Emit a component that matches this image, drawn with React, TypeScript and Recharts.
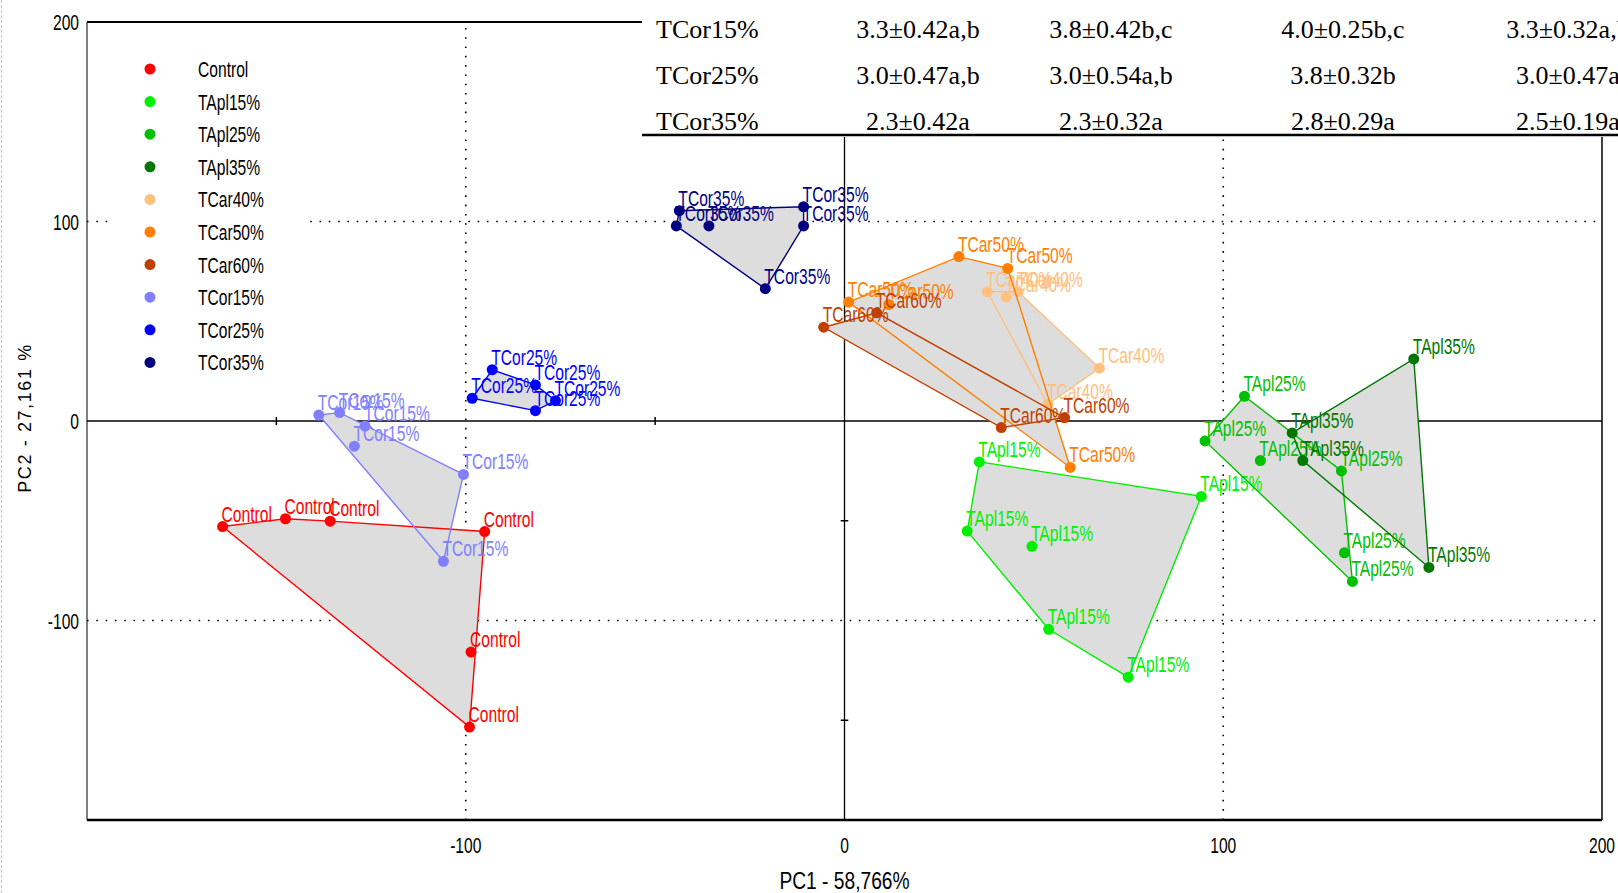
import React from 'react';
import { ScatterChart, Scatter, XAxis, YAxis, ReferenceLine, Legend } from 'recharts';

// PCA scores (PC1, PC2) of each formulation replicate
const CONTROL = [[-164.2, -52.9], [-147.6, -49.0], [-135.8, -50.2], [-95.0, -55.4], [-98.6, -115.8], [-99.0, -153.4]];
const TAPL15 = [[35.6, -20.5], [94.2, -37.8], [32.4, -55.2], [49.5, -62.8], [53.9, -104.4], [74.9, -128.4]];
const TAPL25 = [[105.6, 12.4], [95.2, -10.0], [109.8, -19.8], [131.2, -25.0], [132.0, -66.1], [134.1, -80.4]];
const TAPL35 = [[150.3, 31.1], [118.2, -6.0], [121.0, -19.8], [154.3, -73.4]];
const TCAR40 = [[37.7, 64.8], [42.7, 62.1], [45.8, 64.8], [67.3, 26.5], [53.7, 8.4]];
const TCAR50 = [[30.2, 82.4], [43.1, 76.5], [1.1, 59.6], [11.7, 58.4], [59.6, -23.3]];
const TCAR60 = [[-5.5, 47.0], [8.5, 54.2], [41.4, -3.3], [58.1, 1.7]];
const TCOR15 = [[-138.8, 3.0], [-133.3, 4.2], [-126.6, -2.5], [-129.4, -12.6], [-100.6, -26.8], [-105.9, -70.3]];
const TCOR25 = [[-93.0, 25.7], [-98.3, 11.4], [-81.6, 18.1], [-81.6, 5.2], [-76.3, 10.2]];
const TCOR35 = [[-43.6, 105.4], [-44.4, 97.8], [-35.8, 97.8], [-10.8, 107.4], [-10.8, 97.8], [-20.9, 66.3]];

const SERIES = [
  { name: 'Control', color: '#ff0000', scores: CONTROL },
  { name: 'TApl15%', color: '#00f000', scores: TAPL15 },
  { name: 'TApl25%', color: '#00c000', scores: TAPL25 },
  { name: 'TApl35%', color: '#007800', scores: TAPL35 },
  { name: 'TCar40%', color: '#ffc080', scores: TCAR40 },
  { name: 'TCar50%', color: '#ff8000', scores: TCAR50 },
  { name: 'TCar60%', color: '#c04000', scores: TCAR60 },
  { name: 'TCor15%', color: '#8080ff', scores: TCOR15 },
  { name: 'TCor25%', color: '#0000ff', scores: TCOR25 },
  { name: 'TCor35%', color: '#000080', scores: TCOR35 },
];

const X_TICKS = [-100, 0, 100, 200];
const Y_TICKS = [-100, 0, 100, 200];
const GRID_LINES = [-100, 100];
const MINOR_TICKS = [-150, -50];

// sensory scores table printed over the top of the figure
const TABLE_NAMES = ['TCor15%', 'TCor25%', 'TCor35%'];
const TABLE_COLUMNS = [
  ['3.3±0.42a,b', '3.0±0.47a,b', '2.3±0.42a'],
  ['3.8±0.42b,c', '3.0±0.54a,b', '2.3±0.32a'],
  ['4.0±0.25b,c', '3.8±0.32b', '2.8±0.29a'],
  ['3.3±0.32a,b', '3.0±0.47a', '2.5±0.19a'],
];
const TABLE_COL_X = [918, 1111, 1343, 1568];
const TABLE_ROW_Y = [38, 84, 130];

const SANS = '"Liberation Sans", Arial, sans-serif';
const SERIF = '"Liberation Serif", "Times New Roman", serif';
const FONT = 22;
const SQUEEZE = 0.71;

type Pt = { x: number; y: number };

// convex hull (monotone chain) of the projected points
const convexHull = (pts: Pt[]): Pt[] => {
  const p = [...pts].sort((a, b) => a.x - b.x || a.y - b.y);
  if (p.length < 3) return p;
  const cross = (o: Pt, a: Pt, b: Pt) => (a.x - o.x) * (b.y - o.y) - (a.y - o.y) * (b.x - o.x);
  const lower: Pt[] = [];
  for (const q of p) {
    while (lower.length >= 2 && cross(lower[lower.length - 2], lower[lower.length - 1], q) <= 0) lower.pop();
    lower.push(q);
  }
  const upper: Pt[] = [];
  for (const q of [...p].reverse()) {
    while (upper.length >= 2 && cross(upper[upper.length - 2], upper[upper.length - 1], q) <= 0) upper.pop();
    upper.push(q);
  }
  lower.pop();
  upper.pop();
  return lower.concat(upper);
};

const polyPoints = (pts: Pt[]) => convexHull(pts).map((q) => `${q.x},${q.y}`).join(' ');

const hullFill = (props: any) => <polygon points={polyPoints(props.points)} fill="#dddddd" stroke="none" />;

const hullEdge = (color: string) => (props: any) => (
  <polygon points={polyPoints(props.points)} fill="none" stroke={color} strokeWidth={1.4} />
);

const noDot = () => <g />;

const labelledDot = (color: string, name: string) => (props: any) => {
  const { cx, cy } = props;
  return (
    <g>
      <circle cx={cx} cy={cy} r={5.5} fill={color} />
      <text
        transform={`translate(${cx - 1},${cy - 5}) scale(${SQUEEZE},1)`}
        fill={color}
        fontSize={FONT}
        fontFamily={SANS}
      >
        {name}
      </text>
    </g>
  );
};

const XTick = ({ x, y, payload }: any) => (
  <text transform={`translate(${x},${y + 25}) scale(${SQUEEZE},1)`} textAnchor="middle" fontSize={FONT} fontFamily={SANS} fill="#000">
    {payload.value}
  </text>
);

const YTick = ({ x, y, payload }: any) => (
  <text transform={`translate(${x},${y + 8}) scale(${SQUEEZE},1)`} textAnchor="end" fontSize={FONT} fontFamily={SANS} fill="#000">
    {payload.value}
  </text>
);

const renderLegend = (props: any) => {
  const items = (props.payload || []).filter((it: any) => it.type !== 'none');
  return (
    <svg width={200} height={340} style={{ display: 'block', background: '#fff' }}>
      {items.map((it: any, i: number) => {
        const cy = 24 + i * 32.6;
        return (
          <g key={it.value}>
            <circle cx={42} cy={cy} r={5.5} fill={it.color} />
            <text transform={`translate(90,${cy + 8}) scale(${SQUEEZE},1)`} fontSize={FONT} fontFamily={SANS} fill="#000">
              {it.value}
            </text>
          </g>
        );
      })}
    </svg>
  );
};

const toPoints = (scores: number[][]) => scores.map(([x, y]) => ({ x, y }));

export default function App() {
  return (
    <div style={{ position: 'fixed', left: 0, top: 0, width: 1618, height: 893, background: '#fff', overflow: 'hidden' }}>
      <ScatterChart width={1618} height={893} margin={{ top: 22, right: 16, bottom: 43, left: 27 }}>
        <XAxis
          type="number"
          dataKey="x"
          domain={[-200, 200]}
          ticks={X_TICKS}
          tick={<XTick />}
          tickLine={false}
          axisLine={{ stroke: '#000', strokeWidth: 2.5 }}
          height={30}
          allowDataOverflow
          label={{
            content: (p: any) => (
              <text
                transform={`translate(${p.viewBox.x + p.viewBox.width / 2},${p.viewBox.y + 69}) scale(0.8,1)`}
                textAnchor="middle"
                fontSize={24}
                fontFamily={SANS}
                fill="#000"
              >
                PC1 - 58,766%
              </text>
            ),
          }}
        />
        <YAxis
          type="number"
          dataKey="y"
          domain={[-200, 200]}
          ticks={Y_TICKS}
          tick={<YTick />}
          tickLine={false}
          axisLine={{ stroke: '#000', strokeWidth: 1 }}
          width={60}
          allowDataOverflow
          label={{
            content: (p: any) => (
              <text
                transform={`translate(${p.viewBox.x - 2},${p.viewBox.y + p.viewBox.height / 2 - 3}) rotate(-90)`}
                textAnchor="middle"
                dominantBaseline="central"
                fontSize={18}
                letterSpacing={1.6}
                fontFamily={SANS}
                fill="#000"
              >
                PC2 - 27,161 %
              </text>
            ),
          }}
        />

        {SERIES.map((s) => (
          <Scatter
            key={`fill-${s.name}`}
            data={toPoints(s.scores)}
            legendType="none"
            line={hullFill}
            shape={noDot}
            isAnimationActive={false}
          />
        ))}

        <ReferenceLine y={200} stroke="#000" strokeWidth={2} />
        <ReferenceLine x={200} stroke="#000" strokeWidth={1.5} />
        {GRID_LINES.map((v) => (
          <ReferenceLine key={`gx${v}`} x={v} stroke="#000" strokeWidth={1.6} strokeDasharray="1.6 7.7" />
        ))}
        {GRID_LINES.map((v) => (
          <ReferenceLine key={`gy${v}`} y={v} stroke="#000" strokeWidth={1.6} strokeDasharray="1.6 7.7" />
        ))}
        <ReferenceLine x={0} stroke="#000" strokeWidth={1.3} />
        <ReferenceLine y={0} stroke="#000" strokeWidth={1.3} />
        {MINOR_TICKS.map((v) => (
          <ReferenceLine key={`tx${v}`} segment={[{ x: v, y: -2 }, { x: v, y: 2 }]} stroke="#000" strokeWidth={1.5} />
        ))}
        {MINOR_TICKS.map((v) => (
          <ReferenceLine key={`ty${v}`} segment={[{ x: -1, y: v }, { x: 1, y: v }]} stroke="#000" strokeWidth={1.5} />
        ))}

        {SERIES.map((s) => (
          <Scatter
            key={s.name}
            name={s.name}
            data={toPoints(s.scores)}
            fill={s.color}
            line={hullEdge(s.color)}
            shape={labelledDot(s.color, s.name)}
            isAnimationActive={false}
          />
        ))}

        <Legend
          layout="vertical"
          align="center"
          verticalAlign="middle"
          content={renderLegend}
          wrapperStyle={{ left: 108, top: 45, width: 200, height: 340 }}
        />
      </ScatterChart>

      <div style={{ position: 'absolute', left: 642, top: 0, width: 976, height: 137, background: '#fff' }}>
        <svg width={976} height={137} style={{ display: 'block' }}>
          {TABLE_NAMES.map((name, r) => (
            <text key={name} x={656 - 642} y={TABLE_ROW_Y[r]} fontSize={26} fontFamily={SERIF} fill="#000">
              {name}
            </text>
          ))}
          {TABLE_COLUMNS.map((col, c) =>
            col.map((cell, r) => (
              <text
                key={`${c}-${r}`}
                x={TABLE_COL_X[c] - 642}
                y={TABLE_ROW_Y[r]}
                textAnchor="middle"
                fontSize={26}
                fontFamily={SERIF}
                fill="#000"
              >
                {cell}
              </text>
            ))
          )}
          <line x1={0} x2={976} y1={135} y2={135} stroke="#000" strokeWidth={2.5} />
        </svg>
      </div>

      <div style={{ position: 'absolute', left: 1, top: 0, height: 893, borderLeft: '1px dashed #c8c8c8' }} />
    </div>
  );
}
